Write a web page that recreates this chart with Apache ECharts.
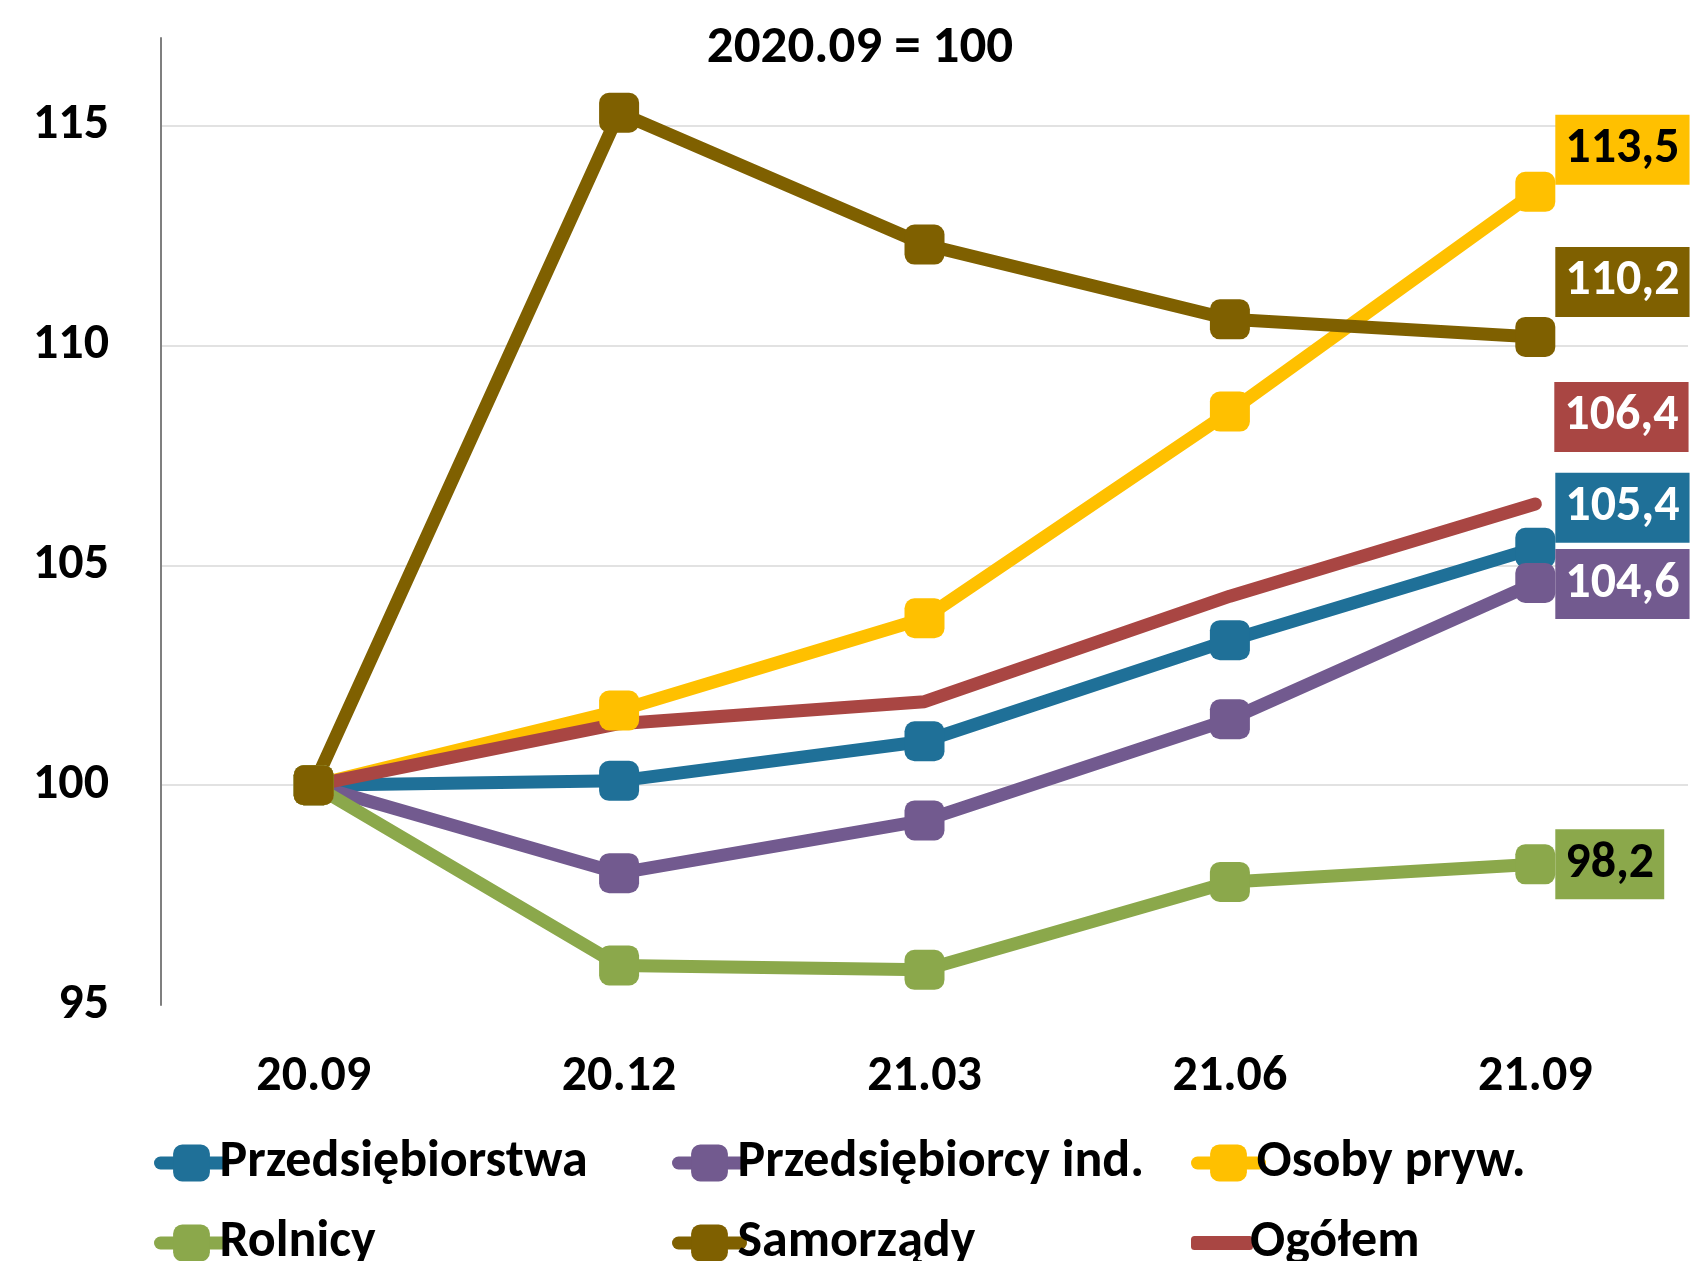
<!DOCTYPE html>
<html>
<head>
<meta charset="utf-8">
<script src="https://cdn.jsdelivr.net/npm/echarts@6/dist/echarts.min.js"></script>
<style>html,body{margin:0;padding:0;background:#fff}#c{width:1692px;height:1261px}</style>
</head>
<body>
<div id="c"></div>
<script>
const categories = ['20.09', '20.12', '21.03', '21.06', '21.09'];
const przedsiebiorstwa = [100, 100.1, 101.0, 103.3, 105.4];
const przedsiebiorcyInd = [100, 98.0, 99.2, 101.5, 104.6];
const osobyPryw = [100, 101.7, 103.8, 108.5, 113.5];
const rolnicy = [100, 95.9, 95.8, 97.8, 98.2];
const samorzady = [100, 115.3, 112.3, 110.6, 110.2];
const ogolem = [100, 101.4, 101.9, 104.3, 106.4];
const yTicks = [95, 100, 105, 110, 115];
const titleText = '2020.09 = 100';

const FONT = 'Carlito, Lato, "Noto Sans", sans-serif';
const fmt = v => v.toFixed(1).replace('.', ',');

const defs = [
  {name: 'Przedsiębiorstwa', data: przedsiebiorstwa, color: '#1F7098', labelColor: '#fff', offsetY: -40, symbol: true, lx: 154, ly: 1135},
  {name: 'Przedsiębiorcy ind.', data: przedsiebiorcyInd, color: '#725A8F', labelColor: '#fff', offsetY: 1, symbol: true, lx: 672, ly: 1135},
  {name: 'Osoby pryw.', data: osobyPryw, color: '#FFC000', labelColor: '#000', offsetY: -42, symbol: true, lx: 1191, ly: 1135},
  {name: 'Rolnicy', data: rolnicy, color: '#8BA84B', labelColor: '#000', offsetY: 0, symbol: true, lx: 154, ly: 1215},
  {name: 'Samorządy', data: samorzady, color: '#7F6000', labelColor: '#fff', offsetY: -55, symbol: true, lx: 672, ly: 1215},
  {name: 'Ogółem', data: ogolem, color: '#A94643', labelColor: '#fff', offsetY: -87, symbol: false, lx: 1191, ly: 1215}
];

const labelBox = d => ({
  backgroundColor: d.color,
  color: d.labelColor,
  fontFamily: FONT,
  fontWeight: 'bold',
  fontSize: 50,
  lineHeight: 52,
  padding: [9, 10, 9, 10]
});

const series = defs.map(d => {
  const s = {
    name: d.name,
    type: 'line',
    symbol: d.symbol ? 'roundRect' : 'none',
    symbolSize: 40,
    color: d.color,
    itemStyle: {color: d.color},
    lineStyle: {color: d.color, width: 13, cap: 'round', join: 'round'},
    emphasis: {disabled: true},
    animation: false
  };
  if (d.symbol) {
    s.data = d.data.map((v, i) => i !== d.data.length - 1 ? v : {
      value: v,
      label: Object.assign({
        show: true, position: 'right', distance: 0, offset: [0, d.offsetY],
        formatter: () => fmt(v)
      }, labelBox(d))
    });
  } else {
    s.data = d.data.slice();
    s.endLabel = Object.assign({
      show: true, distance: 19, offset: [0, d.offsetY],
      formatter: p => fmt(p.value)
    }, labelBox(d));
  }
  return s;
});

const legends = defs.map(d => ({
  left: d.lx,
  top: d.ly,
  padding: 0,
  itemWidth: 62,
  itemHeight: d.symbol ? 46 : 14,
  selectedMode: false,
  data: [d.symbol ? d.name : {name: d.name, icon: 'roundRect'}],
  lineStyle: {width: 13},
  textStyle: {fontFamily: FONT, fontWeight: 'bold', fontSize: 52, lineHeight: 56, color: '#000', padding: [0, 0, 0, -8]}
}));

const chart = echarts.init(document.getElementById('c'), null, {renderer: 'canvas'});
chart.setOption({
  animation: false,
  backgroundColor: '#fff',
  grid: {left: 161, right: 4, top: 38, bottom: 256, containLabel: false},
  xAxis: {
    type: 'category',
    data: categories,
    boundaryGap: true,
    axisLine: {show: false},
    axisTick: {show: false},
    axisLabel: {fontFamily: FONT, fontWeight: 'bold', fontSize: 50, color: '#000', margin: 47}
  },
  yAxis: {
    type: 'value',
    min: 95,
    max: 117,
    interval: 5,
    axisLine: {show: true, lineStyle: {color: '#7f7f7f', width: 2}},
    axisTick: {show: false},
    axisLabel: {
      fontFamily: FONT, fontWeight: 'bold', fontSize: 50, color: '#000', margin: 52,
      showMaxLabel: false,
      formatter: v => (yTicks.indexOf(v) >= 0 ? String(v) : '')
    },
    splitLine: {show: true, showMinLine: false, showMaxLine: false, lineStyle: {color: '#D9D9D9', width: 1.5}}
  },
  legend: legends,
  graphic: [{
    type: 'text',
    x: 860,
    y: 49,
    style: {
      text: titleText,
      fontFamily: FONT, fontWeight: 'bold', fontSize: 53, fill: '#000',
      textAlign: 'center', textVerticalAlign: 'middle'
    }
  }],
  series: series
});
</script>
</body>
</html>
